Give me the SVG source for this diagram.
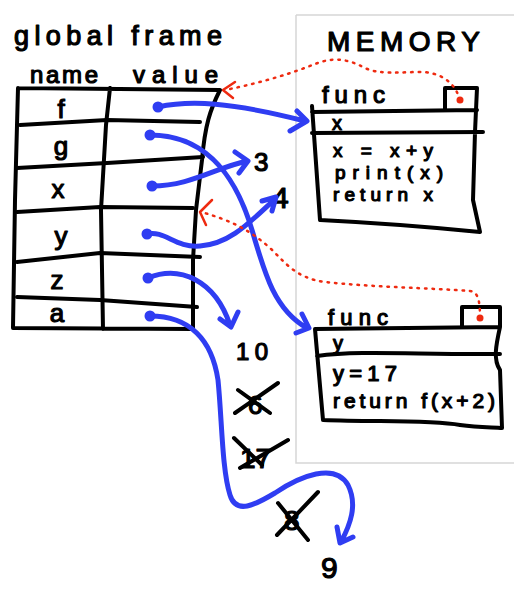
<svg xmlns="http://www.w3.org/2000/svg" width="514" height="590" viewBox="0 0 514 590">
<style>
.frame{fill:none;stroke:#d6d6d6;stroke-width:1.5}
.ink{fill:none;stroke:#000;stroke-width:4;stroke-linecap:round;stroke-linejoin:round}
.t{font-family:"Liberation Sans",Arial,sans-serif;fill:#000;stroke:#000;stroke-width:1.2;stroke-linejoin:round}
.blue{fill:none;stroke:#2f3df2;stroke-width:5;stroke-linecap:round;stroke-linejoin:round}
.bdot{fill:#2f3df2}
.red{fill:none;stroke:#ee2a10;stroke-width:2.5;stroke-linecap:round;stroke-dasharray:1.5 6}
.redhead{fill:none;stroke:#ee2a10;stroke-width:2.5;stroke-linecap:round;stroke-linejoin:round}
.rdot{fill:#ee2a10}
</style>
<rect width="514" height="590" fill="#fff"/>
<g id="memory-region">
  <path class="frame" d="M296,15 L514,15 M296,15 L296,463 L514,463"/>
  <text class="t" x="327" y="51" font-size="28" textLength="153">MEMORY</text>
</g>
<g id="global-frame">
  <text class="t" x="14" y="45" font-size="27" textLength="208">global frame</text>
  <text class="t" x="30" y="83" font-size="24" textLength="68">name</text>
  <text class="t" x="133" y="83" font-size="24" textLength="85">value</text>
  <path class="ink" d="M18,88 L220,90 M18,88 L15,200 L13,328 L193,329 M220,90 C210,110 205,125 202,160 L196,210 L193,260 L193,329 M110,88 L106,125 L101,210 L103,329"/>
  <path class="ink" d="M20,125 L107,120 L200,122 M17,168 L107,163 L203,157 M17,212 L100,207 L193,208 M17,262 L100,253 L200,257 M17,297 L100,300 L197,307"/>
  <g class="t" font-size="26" text-anchor="middle">
    <text x="61" y="118">f</text>
    <text x="61" y="155">g</text>
    <text x="58" y="198">x</text>
    <text x="61" y="245">y</text>
    <text x="57" y="289">z</text>
    <text x="57" y="322">a</text>
  </g>
</g>
<g id="func-f">
  <path class="ink" d="M445,110 L445,88 L477,88 M312,112 L477,110 M312,133 L483,132 M312,106 L320,220 M320,220 C360,222 420,226 480,232 M477,88 L475,132 L473,200 L480,232"/>
  <circle class="rdot" cx="460" cy="100" r="3.5"/>
  <text class="t" x="322" y="103" font-size="24" textLength="63">func</text>
  <text class="t" x="332" y="130" font-size="20">x</text>
  <text class="t" x="333" y="157" font-size="19" textLength="100">x = x+y</text>
  <text class="t" x="335" y="179" font-size="19" textLength="108">print(x)</text>
  <text class="t" x="333" y="201" font-size="19" textLength="100">return x</text>
</g>
<g id="func-g">
  <path class="ink" d="M462,327 L462,307 L500,307 L500,327 M315,329 L500,327 M317,356 C360,350 420,355 500,354 M315,329 L323,420 M323,420 C380,422 430,420 460,425 C480,428 495,427 502,428 M500,327 C496,345 493,360 500,370 L502,428"/>
  <circle class="rdot" cx="480" cy="318" r="3.5"/>
  <text class="t" x="328" y="325" font-size="22" textLength="60">func</text>
  <text class="t" x="333" y="350" font-size="20">y</text>
  <text class="t" x="333" y="381" font-size="22" textLength="64">y=17</text>
  <text class="t" x="333" y="408" font-size="21" textLength="162">return f(x+2)</text>
</g>
<g id="val-3"><text class="t" x="254" y="171" font-size="26">3</text></g>
<g id="val-4"><text class="t" x="272" y="208" font-size="30">4</text></g>
<g id="val-10"><text class="t" x="236" y="360" font-size="24" textLength="32">10</text></g>
<g id="val-6-crossed">
  <text class="t" x="248" y="414" font-size="26">6</text>
  <path class="ink" d="M235,413 L278,383 M238,390 L270,413"/>
</g>
<g id="val-17-crossed">
  <text class="t" x="240" y="468" font-size="28">17</text>
  <path class="ink" d="M234,438 L262,465 M240,468 L288,440"/>
</g>
<g id="val-8-crossed">
  <text class="t" x="284" y="530" font-size="28">8</text>
  <path class="ink" d="M278,503 L308,540 M277,535 L318,492"/>
</g>
<g id="val-9"><text class="t" x="321" y="578" font-size="30">9</text></g>
<g id="connectors">
  <path class="blue" d="M158,107 C190,100 230,102 305,121 M297,111 L307,121 L290,131"/>
  <path class="blue" d="M150,135 C215,135 240,190 252,230 C265,275 275,310 307,328 M302,314 L309,328 L296,333"/>
  <path class="blue" d="M152,186 C190,186 215,168 247,161 M235,152 L248,161 L239,173"/>
  <path class="blue" d="M147,234 C165,230 175,248 200,246 C230,244 250,222 275,199 M262,201 L276,197 L272,211"/>
  <path class="blue" d="M148,278 C180,265 215,280 230,325 M220,319 L231,327 L238,312"/>
  <path class="blue" d="M150,316 C190,316 212,340 218,380 C222,420 222,470 230,495 C236,515 255,505 275,493 C300,476 335,462 348,485 C358,505 350,525 341,542 M337,527 L340,543 L353,537"/>
  <circle class="bdot" cx="158" cy="107" r="5.5"/>
  <circle class="bdot" cx="150" cy="135" r="5.5"/>
  <circle class="bdot" cx="152" cy="186" r="5.5"/>
  <circle class="bdot" cx="147" cy="234" r="5.5"/>
  <circle class="bdot" cx="148" cy="278" r="5.5"/>
  <circle class="bdot" cx="150" cy="316" r="5.5"/>
  <path class="red" d="M460,100 C455,82 440,72 420,72 C400,72 380,75 365,68 C350,60 335,56 315,64 C295,72 265,82 225,90"/>
  <path class="redhead" d="M235,82 L223,90 L233,98"/>
  <path class="red" d="M480,318 C480,300 478,292 470,291 C430,288 370,287 325,282 C295,278 285,262 270,248 C250,230 230,220 201,212"/>
  <path class="redhead" d="M212,200 L200,212 L206,225"/>
</g>
</svg>
